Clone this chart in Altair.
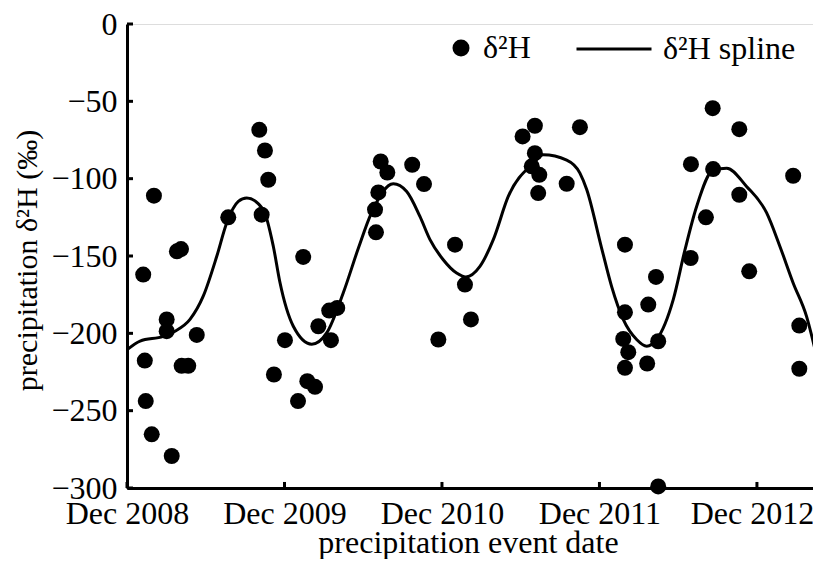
import altair as alt
import pandas as pd

# observed precipitation events (decimal year, δ2H ‰)
pt_year = [2009.02, 2009.03, 2009.036, 2009.074, 2009.088, 2009.169, 2009.169, 2009.201, 2009.234, 2009.26,
           2009.264, 2009.306, 2009.36, 2009.56, 2009.757, 2009.772, 2009.793, 2009.814, 2009.85, 2009.92,
           2010.003, 2010.036, 2010.062, 2010.111, 2010.132, 2010.201, 2010.212, 2010.252, 2010.492, 2010.498,
           2010.513, 2010.528, 2010.57, 2010.728, 2010.803, 2010.894, 2011.0, 2011.063, 2011.101, 2011.429,
           2011.487, 2011.507, 2011.507, 2011.528, 2011.535, 2011.709, 2011.793, 2012.068, 2012.079, 2012.079,
           2012.079, 2012.1, 2012.22, 2012.227, 2012.276, 2012.29, 2012.29, 2012.496, 2012.498, 2012.593,
           2012.636, 2012.639, 2012.805, 2012.805, 2012.868, 2013.147, 2013.186, 2013.186]
pt_d2h = [-162, -217.6, -243.8, -265.3, -111, -191, -198.6, -279.3, -147, -145.5,
          -221, -221, -201, -125, -68.4, -123.3, -81.8, -100.7, -226.6, -204.4,
          -243.8, -150.6, -230.9, -234.6, -195.4, -185.3, -204.4, -183.6, -120, -134.7,
          -108.9, -88.9, -96, -91, -103.5, -204, -142.7, -168.5, -191, -72.7,
          -92, -65.8, -83.5, -109.3, -97.5, -103.3, -66.7, -203.6, -142.7, -186.4,
          -222.3, -212.2, -219.5, -181.4, -163.5, -205.1, -299, -151.3, -90.6, -125,
          -54.4, -93.8, -68, -110.4, -159.9, -98.1, -195, -222.9]

# spline curve
sp_year = [2008.92, 2009.0, 2009.147, 2009.222, 2009.317, 2009.401, 2009.487, 2009.55, 2009.624, 2009.677,
           2009.782, 2009.846, 2009.888, 2009.973, 2010.09, 2010.185, 2010.29, 2010.386, 2010.47, 2010.608,
           2010.693, 2010.777, 2010.841, 2010.925, 2011.01, 2011.069, 2011.158, 2011.243, 2011.338, 2011.497,
           2011.56, 2011.709, 2011.793, 2011.836, 2011.931, 2011.994, 2012.068, 2012.153, 2012.217, 2012.28,
           2012.386, 2012.46, 2012.534, 2012.64, 2012.725, 2012.851, 2012.978, 2013.063, 2013.147, 2013.232,
           2013.296]
sp_d2h = [-210.4, -205, -202, -198.6, -191, -176, -150.2, -128.7, -114.7, -112.5,
          -120, -143.7, -167, -195.4, -207, -199.7, -173.9, -145, -122, -103.3,
          -108.3, -124.4, -139.4, -152.4, -161, -163.5, -156.7, -139.4, -111.5, -90,
          -84.6, -88, -96.4, -107, -145, -169.6, -191, -204, -208.3, -204,
          -178, -146, -118, -94.3, -93.2, -105, -122, -143.8, -167.4, -189,
          -214.8]

x_ticks = [2008.917, 2009.917, 2010.917, 2011.917, 2012.917]
y_ticks = [0, -50, -100, -150, -200, -250, -300]
x_domain = [2008.917, 2013.273]
y_domain = [-300, 0]

FONT = "Liberation Serif"
FS = 32

pts = pd.DataFrame({"year": pt_year, "d2h": pt_d2h, "s": "δ²H"})
spl = pd.DataFrame({"year": sp_year, "d2h": sp_d2h, "s": "δ²H spline"})
xt = pd.DataFrame({"year": x_ticks, "y0": -300, "y1": -296.1})
yt = pd.DataFrame({"d2h": y_ticks, "x0": x_domain[0], "x1": x_domain[0] + 0.038})

xs = alt.Scale(domain=x_domain, nice=False, zero=False)
ys = alt.Scale(domain=y_domain, nice=False)

xaxis = alt.Axis(values=x_ticks, labelExpr="'Dec ' + floor(datum.value)", tickSize=0,
                 domainWidth=3, domainColor="black", grid=False, labelFont=FONT, labelFontSize=FS,
                 labelColor="black", labelPadding=10, labelFlush=False,
                 labelOffset={"condition": {"test": "datum.value > 2012.5", "value": -5}, "value": 0},
                 title="precipitation event date",
                 titleFont=FONT, titleFontSize=FS, titleFontWeight="normal", titleColor="black",
                 titleX=341, titleY=64, titleBaseline="alphabetic")
yaxis = alt.Axis(values=y_ticks, tickSize=0, domainWidth=3, domainColor="black", grid=False,
                 labelFont=FONT, labelFontSize=FS, labelColor="black", labelPadding=10,
                 title="precipitation δ²H (‰)", titleFont=FONT, titleFontSize=30,
                 titleFontWeight="normal", titleColor="black",
                 titleX=-91, titleY=236, titleBaseline="alphabetic")

line = alt.Chart(spl).mark_line(strokeWidth=3, interpolate="monotone", clip=False).encode(
    x=alt.X("year:Q", scale=xs, axis=xaxis),
    y=alt.Y("d2h:Q", scale=ys, axis=yaxis),
    color=alt.Color("s:N", scale=alt.Scale(range=["black"]),
                    legend=alt.Legend(orient="none", legendX=448, legendY=-14, title=None,
                                      labelFont=FONT, labelFontSize=FS, labelColor="black",
                                      symbolType="stroke", symbolSize=5625, symbolStrokeWidth=3,
                                      labelOffset=10, padding=0)),
)

points = alt.Chart(pts).mark_circle(size=256, opacity=1).encode(
    x=alt.X("year:Q", scale=xs),
    y=alt.Y("d2h:Q", scale=ys),
    color=alt.Color("s:N", scale=alt.Scale(range=["black"]),
                    legend=alt.Legend(orient="none", legendX=318, legendY=8, title=None,
                                      labelFont=FONT, labelFontSize=FS, labelColor="black",
                                      symbolType="circle", symbolSize=289, symbolOpacity=1,
                                      labelOffset=6, padding=0)),
)

xtick = alt.Chart(xt).mark_rule(strokeWidth=3, color="black").encode(
    x=alt.X("year:Q", scale=xs), y=alt.Y("y0:Q", scale=ys), y2="y1:Q")
ytick = alt.Chart(yt).mark_rule(strokeWidth=3, color="black").encode(
    y=alt.Y("d2h:Q", scale=ys), x=alt.X("x0:Q", scale=xs), x2="x1:Q")

chart = alt.layer(line, points, xtick, ytick).resolve_scale(color="independent").properties(
    width=686, height=464,
    autosize=alt.AutoSizeParams(type="none"),
    padding={"left": 119, "top": 16, "right": 0, "bottom": 71},
).configure_view(stroke=None).configure(background="white")

chart.save("out.html", embed_options={"renderer": "svg", "actions": False})
